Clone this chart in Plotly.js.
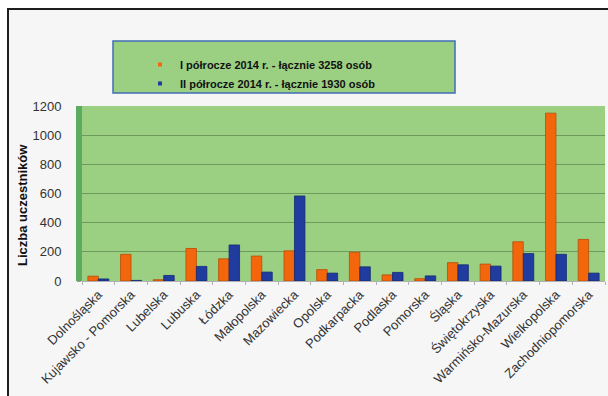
<!DOCTYPE html>
<html>
<head>
<meta charset="utf-8">
<script src="https://cdn.plot.ly/plotly-3.0.1.min.js"></script>
<style>
  html, body { margin: 0; padding: 0; background: #ffffff; }
  #frame {
    position: absolute; left: 7px; top: 8px; width: 610px; height: 400px;
    border-left: 2px solid #1e1e1e; border-top: 2px solid #1e1e1e;
    background: #f6f6f6;
  }
  #chart { position: absolute; left: 0; top: 0; width: 608px; height: 396px; }
</style>
</head>
<body>
<div id="frame"></div>
<div id="chart"></div>
<script>
// Voivodeships and participant counts per half-year of 2014
const regions = [
  'Dolnośląska', 'Kujawsko - Pomorska', 'Lubelska', 'Lubuska', 'Łódzka',
  'Małopolska', 'Mazowiecka', 'Opolska', 'Podkarpacka', 'Podlaska',
  'Pomorska', 'Śląska', 'Świętokrzyska', 'Warmińsko-Mazurska',
  'Wielkopolska', 'Zachodniopomorska'
];
const firstHalf  = [33, 183, 9, 223, 152, 171, 207, 78, 197, 42, 16, 126, 116, 269, 1151, 285];
const secondHalf = [14, 4, 38, 100, 247, 61, 583, 54, 97, 59, 35, 111, 102, 188, 183, 54];
const yTicks = [0, 200, 400, 600, 800, 1000, 1200];
const yTitle = 'Liczba uczestników';

const total = arr => arr.reduce((a, b) => a + b, 0);
const nameFirst  = 'I półrocze 2014 r. - łącznie ' + total(firstHalf) + ' osób';
const nameSecond = 'II półrocze 2014 r. - łącznie ' + total(secondHalf) + ' osób';

const W = 608, H = 396;
const M = { l: 82, r: 3, t: 106, b: 115, autoexpand: false };
const PW = W - M.l - M.r, PH = H - M.t - M.b;
// pixel -> paper helpers for decorations outside the plot area
const px = x => (x - M.l) / PW;
const py = y => (H - M.b - y) / PH;

const ORANGE = '#f4660c', BLUE = '#1f3c9e', GREEN = '#9bcf82';
const FONT = 'Liberation Sans, Arial, sans-serif';

const traces = [
  { type: 'bar', x: regions, y: firstHalf, name: nameFirst, legendgroup: 'a', showlegend: false,
    marker: { color: ORANGE, line: { color: '#b84d05', width: 0.8 } } },
  { type: 'bar', x: regions, y: secondHalf, name: nameSecond, legendgroup: 'b', showlegend: false,
    marker: { color: BLUE, line: { color: '#142a72', width: 0.8 } } },
  // small square keys for the legend
  { type: 'scatter', mode: 'markers', x: [null], y: [null], name: nameFirst, legendgroup: 'a',
    marker: { symbol: 'square', size: 4, color: ORANGE }, hoverinfo: 'skip' },
  { type: 'scatter', mode: 'markers', x: [null], y: [null], name: nameSecond, legendgroup: 'b',
    marker: { symbol: 'square', size: 4, color: BLUE }, hoverinfo: 'skip' }
];

const layout = {
  width: W, height: H,
  margin: M,
  paper_bgcolor: 'rgba(0,0,0,0)',
  plot_bgcolor: GREEN,
  font: { family: FONT, color: '#333333', size: 12 },
  barmode: 'group', bargap: 0.36, bargroupgap: 0,
  showlegend: true,
  legend: {
    xref: 'container', yref: 'container',
    x: 140 / W, y: 1 - 50 / H, xanchor: 'left', yanchor: 'top',
    bgcolor: 'rgba(0,0,0,0)', borderwidth: 0,
    font: { size: 11, color: '#111111', family: FONT, weight: 'bold' },
    tracegroupgap: 0, itemwidth: 30
  },
  xaxis: {
    type: 'category', tickangle: -45,
    tickfont: { size: 13, color: '#333333' },
    showgrid: false, showline: true, linecolor: '#b0b0b0', linewidth: 1,
    ticks: 'outside', ticklen: 3, tickcolor: '#b0b0b0', tickson: 'boundaries',
    automargin: false, fixedrange: true
  },
  yaxis: {
    range: [0, 1200], tickvals: yTicks, ticktext: yTicks.map(String),
    tickfont: { size: 13, color: '#333333' },
    showgrid: true, gridcolor: '#6f9a5e', gridwidth: 1,
    zeroline: false, showline: false,
    ticks: 'outside', ticklen: 4, tickcolor: '#9a9a9a',
    ticklabelstandoff: 13,
    automargin: false, fixedrange: true
  },
  annotations: [
    { text: yTitle, xref: 'paper', yref: 'paper', x: px(22), y: py(205),
      xanchor: 'center', yanchor: 'middle', textangle: -90, showarrow: false,
      font: { size: 13, color: '#111111', family: FONT, weight: 'bold' } }
  ],
  shapes: [
    // legend box
    { type: 'rect', xref: 'paper', yref: 'paper', layer: 'above',
      x0: px(113), x1: px(455), y0: py(93), y1: py(41),
      fillcolor: GREEN, line: { color: '#3f6fb5', width: 1.5 } },
    // side wall on the left of the plot area
    { type: 'rect', xref: 'paper', yref: 'y', layer: 'above',
      xsizemode: 'pixel', xanchor: 0, x0: -6, x1: 0, y0: 0, y1: 1200,
      fillcolor: '#5cab5e', line: { width: 0 } }
  ]
};

Plotly.newPlot('chart', traces, layout, { displayModeBar: false, staticPlot: true });
</script>
</body>
</html>
